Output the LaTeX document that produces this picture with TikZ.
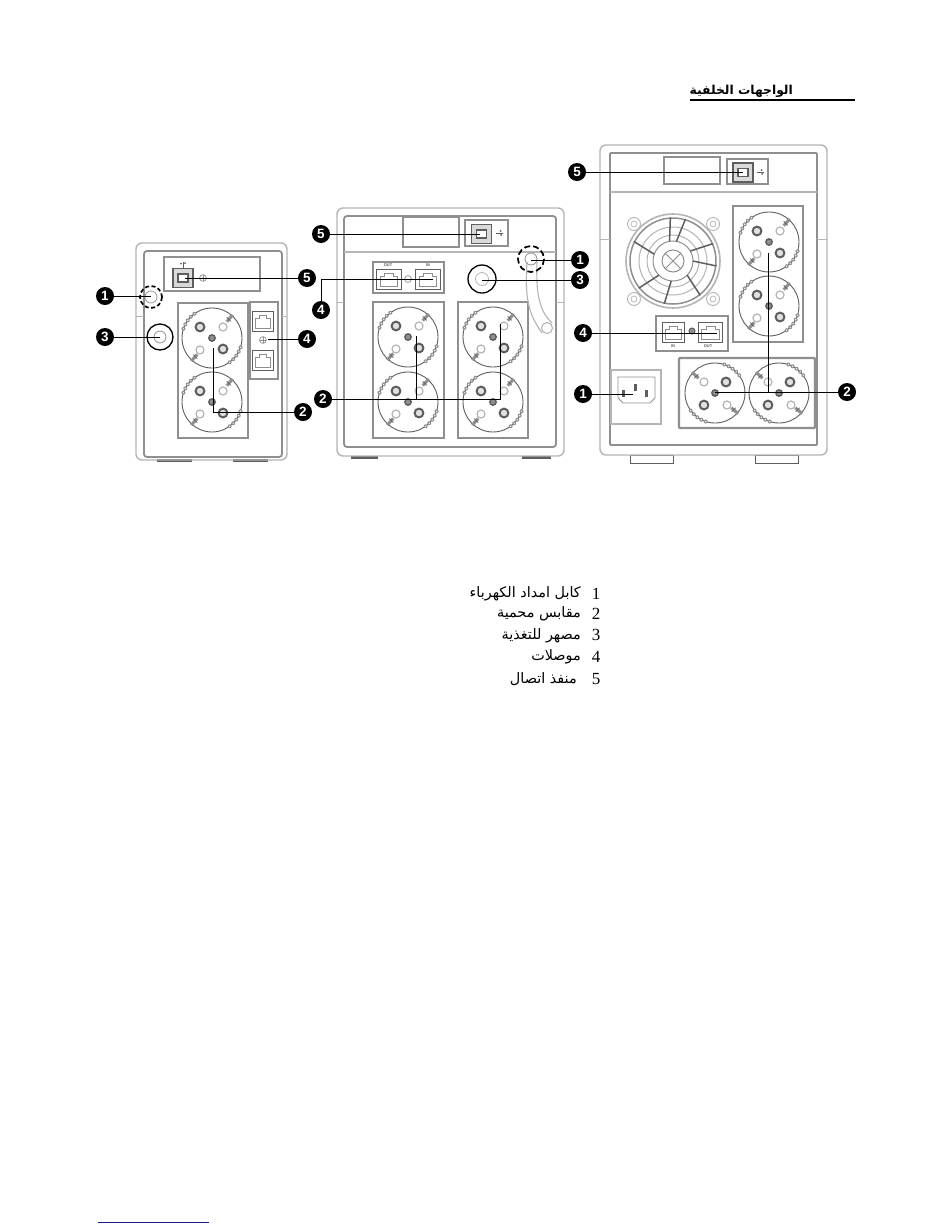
\documentclass[tikz,border=0pt]{standalone}
\usepackage{fontspec}
\setmainfont{Liberation Serif}
\newfontfamily\arabicfont[Script=Arabic]{DejaVu Sans}
\newfontfamily\numfont{Liberation Sans}
\TeXXeTstate=1
\definecolor{gA}{HTML}{8F8F8F}
\definecolor{gB}{HTML}{5E5E5E}
\definecolor{gC}{HTML}{B5B5B5}
\definecolor{navy}{HTML}{1A1A80}
\tikzset{
  x=1pt,y=-1pt,
  num/.style={circle,fill=black,text=white,inner sep=0pt,minimum size=18pt,font=\numfont\bfseries\fontsize{13.5}{13.5}\selectfont},
  ar/.style={anchor=east,inner sep=0pt,font=\arabicfont\fontsize{14.4}{16}\selectfont},
  dig/.style={anchor=center,inner sep=0pt,font=\fontsize{17}{18}\selectfont},
  con/.style={draw=black,line width=1pt},
  outerbody/.style={draw=gC,line width=1.4pt,rounded corners=6pt},
  innerbody/.style={draw=gA,line width=1.8pt,rounded corners=3pt},
  panel/.style={draw=gA,line width=2.2pt,fill=white},
  tiny/.style={inner sep=0pt,font=\numfont\bfseries\fontsize{4}{4}\selectfont,text=gB},
  pics/socket/.style={code={
    \draw[gB,line width=.9pt] (0,0) circle[radius=30];
    \foreach \ang in {198,207,216,225,234,18,27,36,45,54}{
      \fill[gA] (\ang:30) circle[radius=2];
      \fill[white] (\ang:30) circle[radius=.7];
    }
    \draw[gA,line width=3pt] (-48:22) -- (-48:31);
    \draw[gA,line width=3pt] (132:22) -- (132:31);
    \draw[gB,line width=.7pt] (-48:25) ++(-2,-2) -- ++(4,4) (132:25) ++(-2,-2) -- ++(4,4);
    \draw[gB,line width=2pt,fill=gC!40] (-12,-11) circle[radius=4.4];
    \draw[gB,line width=2pt,fill=gC!40] (11,11) circle[radius=4.4];
    \draw[gC,line width=1.2pt,fill=white] (11,-11) circle[radius=4];
    \draw[gC,line width=1.2pt,fill=white] (-12,12) circle[radius=4];
    \draw[gB,line width=1.4pt,fill=gA] (0,0) circle[radius=3.2];
  }},
  pics/rj/.style={code={
    \draw[gB,line width=1pt,fill=white] (-11,-10) rectangle (11,10);
    \draw[gA,line width=.7pt] (-8,7) -- (-8,-3) -- (-4,-3) -- (-4,-6) -- (4,-6) -- (4,-3) -- (8,-3) -- (8,7) -- cycle;
  }},
  pics/usbport/.style={code={
    \draw[gB,line width=1.6pt,fill=gC!50] (-10,-9.5) rectangle (10,9.5);
    \draw[gB,line width=1.1pt,fill=white] (-5,-4) rectangle (5,4);
  }},
  pics/usbmark/.style={code={
    \draw[gB,line width=.9pt] (-3.5,0) -- (3,0);
    \fill[gB] (1,-2) circle[radius=1] (1.5,2) circle[radius=1];
  }}
}
\begin{document}
\begin{tikzpicture}
\useasboundingbox (0,0) rectangle (950,1229);
\fill[white] (0,0) rectangle (950,1229);

% ---------- title ----------
\node[anchor=east,inner sep=0pt,font=\arabicfont\bfseries\fontsize{12.3}{14}\selectfont] (title) at (793,91) {\beginR الواجهات الخلفية\endR};
\coordinate (tl) at (690,100);
\coordinate (tr) at (855,100);
\draw[black,line width=1.1pt] (tl) -- (tr);

% ========== UPS 1 ==========
\fill[gB] (157,459) rectangle (192,462);
\fill[gB] (233,459) rectangle (268,462);
\draw[outerbody] (136,243) rectangle (287,460);
\draw[innerbody] (144,251) rectangle (282,457);
\draw[gC,line width=.9pt] (136,316) -- (144,316) (282,316) -- (287,316);
\draw[panel] (164,257) rectangle (260,291);
\pic at (183,278) {usbport};
\draw[gA,line width=.7pt] (203,278) circle[radius=3.4];
\draw[gA,line width=.5pt] (199.6,278) -- (206.4,278) (203,274.6) -- (203,281.4);
\pic[rotate=90] at (183,264.5) {usbmark};
\draw[panel] (178,303) rectangle (248,438);
\pic at (212,338) {socket};
\pic at (212,402) {socket};
\draw[panel] (250,302) rectangle (278,379);
\pic[xscale=.95] at (263,321) {rj};
\pic[xscale=.95] at (263,360) {rj};
\draw[gA,line width=.7pt] (263,340) circle[radius=3.4];
\draw[gA,line width=.5pt] (259.6,340) -- (266.4,340) (263,336.6) -- (263,343.4);
\draw[black,line width=1.7pt,dash pattern=on 4pt off 2.5pt] (151,297) circle[radius=11];
\draw[gA,line width=.7pt] (151,297) circle[radius=6];
\draw[black,line width=1.3pt] (160,337) circle[radius=13];
\draw[gA,line width=.8pt] (160,337) circle[radius=6];

\node[num] (a1) at (105,296) {1};
\node[num] (a3) at (105,337) {3};
\node[num] (a4) at (307,339) {4};
\node[num] (a5) at (307,278) {5};
\node[num] (a2) at (303,412) {2};
\coordinate (a1e) at (151,296);
\coordinate (a3e) at (160,337);
\coordinate (a4e) at (268,339);
\coordinate (a5e) at (185,278);
\coordinate (a2b) at (213,412);
\coordinate (a2e) at (213,348);
\draw[con] (a1) -- (a1e);
\draw[con] (a3) -- (a3e);
\draw[con,line width=.7pt] (a4) -- (a4e);
\draw[con,line width=.7pt] (a5) -- (a5e);
\draw[con] (a2) -- (a2b) -- (a2e);

% ========== UPS 2 ==========
\fill[gB] (351,456) rectangle (378,459);
\fill[gB] (522,456) rectangle (551,459);
\draw[outerbody] (337,208) rectangle (564,456);
\draw[innerbody] (344,216) rectangle (556,447);
\draw[gC,line width=.9pt] (337,302) -- (344,302) (556,302) -- (564,302);
\draw[gC,line width=2pt] (344,252) -- (556,252);
\draw[panel] (403,217) rectangle (459,247);
\draw[panel] (465,220) rectangle (508,246);
\pic at (481.5,234) {usbport};
\pic at (499.5,233) {usbmark};
\draw[panel] (373,262) rectangle (444,293);
\pic[xscale=1.1] at (389,279) {rj};
\pic[xscale=1.1] at (428,279) {rj};
\node[tiny] (o2) at (388,265.5) {OUT};
\node[tiny] (i2) at (428,265.5) {IN};
\draw[gA,line width=.7pt] (408,279) circle[radius=3.4];
\draw[panel] (373,302) rectangle (444,438);
\pic at (408,337) {socket};
\pic at (408,402) {socket};
\draw[panel] (458,302) rectangle (528,438);
\pic at (493,337) {socket};
\pic at (493,402) {socket};
\draw[gC,line width=1.1pt] (527,262) .. controls (525,295) and (527,312) .. (542,333);
\draw[gC,line width=1.1pt] (537,262) .. controls (536,290) and (538,310) .. (552,323);
\draw[gC,line width=1.1pt,fill=white] (547,328) circle[radius=5.5];
\draw[black,line width=1.7pt,dash pattern=on 6pt off 3pt] (531,259) circle[radius=13];
\draw[gA,line width=.8pt] (531,259) circle[radius=6];
\draw[black,line width=1.3pt] (482,279) circle[radius=14];
\draw[gC,line width=.8pt] (482,279) circle[radius=6.5];

\node[num] (b5) at (321,234) {5};
\node[num] (b4) at (321,310) {4};
\node[num] (b2) at (323,399) {2};
\node[num] (b1) at (580,260) {1};
\node[num] (b3) at (580,280) {3};
\coordinate (b5e) at (480,234);
\coordinate (b4c) at (321,279);
\coordinate (b4e) at (433,279);
\coordinate (b2m) at (416,399);
\coordinate (b2n) at (416,336);
\coordinate (b2c) at (500,399);
\coordinate (b2e) at (500,324);
\coordinate (b1e) at (531,260);
\coordinate (b3e) at (482,280);
\draw[con] (b5) -- (b5e);
\draw[con] (b4) -- (b4c) -- (b4e);
\draw[con] (b2) -- (b2c) -- (b2e);
\draw[con] (b2m) -- (b2n);
\draw[con] (b1) -- (b1e);
\draw[con] (b3) -- (b3e);

% ========== UPS 3 ==========
\draw[gB,line width=.8pt] (630,455) rectangle (673,463);
\draw[gB,line width=.8pt] (755,455) rectangle (798,463);
\draw[outerbody,fill=white] (600,145) rectangle (827,455);
\draw[innerbody,rounded corners=1pt] (610,153) rectangle (817,445);
\draw[gC,line width=.9pt] (600,239) -- (610,239) (817,239) -- (827,239);
\draw[gC,line width=2pt] (610,192) -- (817,192);
\draw[panel] (664,157) rectangle (720,184);
\draw[panel] (727,159) rectangle (768,184);
\pic at (743,172.5) {usbport};
\pic at (760.5,172) {usbmark};
% fan
\foreach \fx/\fy in {634/224,713/224,634/299,713/299}{
  \draw[gC,line width=.9pt] (\fx,\fy) circle[radius=6.5];
  \draw[gC,line width=.7pt] (\fx,\fy) circle[radius=3];
}
\begin{scope}[shift={(673,261)}]
  \draw[gC,line width=1.6pt] (0,0) circle[radius=47];
  \draw[gA,line width=1.5pt] (0,0) circle[radius=43];
  \draw[gC,line width=1pt] (0,0) circle[radius=34];
  \draw[gC,line width=1pt] (0,0) circle[radius=26];
  \draw[gA,line width=1pt] (0,0) circle[radius=20];
  \draw[gA,line width=1pt] (0,0) circle[radius=11];
  \draw[gA,line width=1pt] (-8,-8) -- (8,8) (-8,8) -- (8,-8);
  \foreach \ang in {95,45,0,-30,135,200,260,280}{
    \draw[gB,line width=1.5pt] (\ang:20) -- ++(\ang+12:24);
  }
\end{scope}
% jacks
\draw[panel] (656,316) rectangle (728,351);
\pic at (673,332) {rj};
\pic[xscale=1.1] at (710.5,332) {rj};
\node[tiny] (i3) at (673,346.5) {IN};
\node[tiny] (o3) at (708,346.5) {OUT};
\draw[gB,line width=1pt,fill=gA] (692,331) circle[radius=3];
% sockets
\draw[panel] (733,206) rectangle (803,342);
\pic at (769,242) {socket};
\pic at (769,306) {socket};
\draw[panel,rounded corners=1pt] (679,358) rectangle (815,428);
\pic[rotate=90] at (715,393) {socket};
\pic[rotate=90] at (779,393) {socket};
% inlet
\draw[panel,draw=gC,line width=2.4pt] (611,370) rectangle (661,424);
\draw[gA,line width=.9pt] (618,377) -- (655,377) -- (655,398) -- (650,403) -- (623,403) -- (618,398) -- cycle;
\fill[gB] (622,390) rectangle (625,397);
\fill[gB] (634,384) rectangle (637,391);
\fill[gB] (645,390) rectangle (648,397);

\node[num] (c5) at (577,172) {5};
\node[num] (c4) at (583,333) {4};
\node[num] (c1) at (583,394) {1};
\node[num] (c2) at (847,392) {2};
\coordinate (c5e) at (743,172);
\coordinate (c4e) at (717,333);
\coordinate (c1e) at (633,394);
\coordinate (c2e) at (715,392);
\coordinate (c2c) at (768,392);
\coordinate (c2t) at (768,253);
\draw[con] (c5) -- (c5e);
\draw[con] (c4) -- (c4e);
\draw[con] (c1) -- (c1e);
\draw[con] (c2) -- (c2e);
\draw[con] (c2c) -- (c2t);

% ---------- legend ----------
\node[ar] (l1) at (581,594) {\beginR كابل امداد الكهرباء\endR};
\node[ar] (l2) at (581,614) {\beginR مقابس محمية\endR};
\node[ar] (l3) at (581,636) {\beginR مصهر للتغذية\endR};
\node[ar] (l4) at (581,657) {\beginR موصلات\endR};
\node[ar] (l5) at (577,679) {\beginR منفذ اتصال\endR};
\node[dig] (d1) at (596,594) {1};
\node[dig] (d2) at (596,614) {2};
\node[dig] (d3) at (596,635) {3};
\node[dig] (d4) at (596,657) {4};
\node[dig] (d5) at (596,679) {5};

% ---------- bottom rule ----------
\coordinate (fl) at (98,1222);
\coordinate (fr) at (209,1222);
\draw[navy,line width=1pt] (fl) -- (fr);
\end{tikzpicture}
\end{document}
